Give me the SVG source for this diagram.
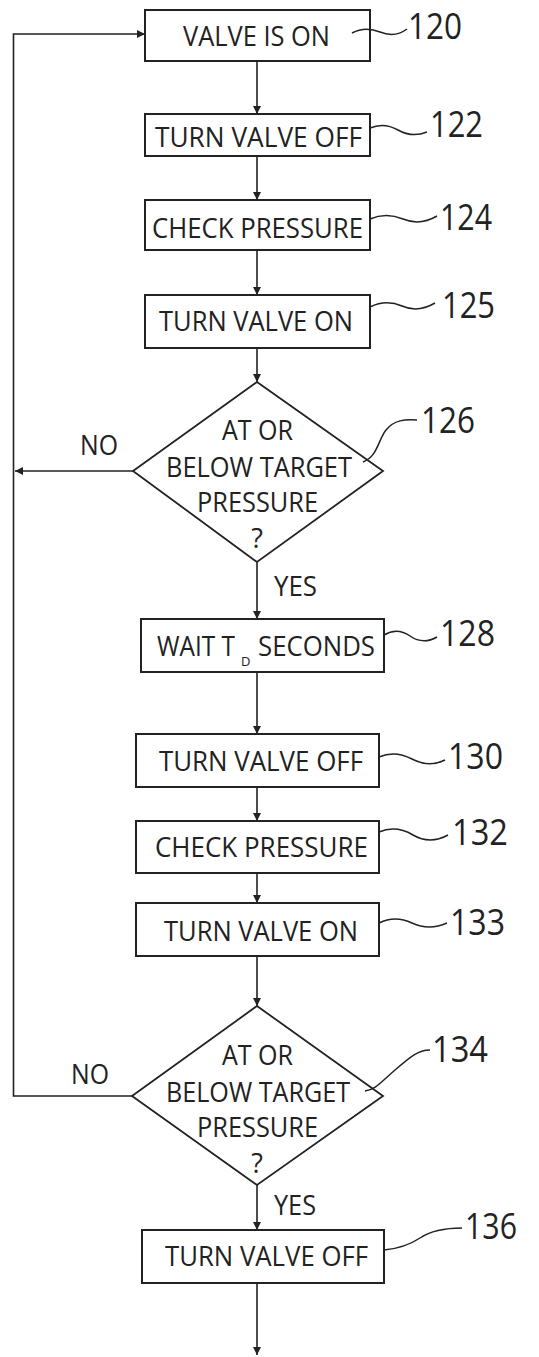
<svg xmlns="http://www.w3.org/2000/svg" width="539" height="1357" viewBox="0 0 539 1357">
<defs>
<marker id="ah" markerUnits="userSpaceOnUse" markerWidth="10" markerHeight="10" refX="8" refY="4" orient="auto">
<path d="M0,0 L8,4 L0,8 z" fill="#222"/>
</marker>
<style>
.box{fill:#fff;stroke:#222;stroke-width:2}
.dia{fill:#fff;stroke:#222;stroke-width:1.8}
.t{font-family:"Open Sans","Liberation Sans",sans-serif;font-size:27px;fill:#222}
.num{font-family:"Open Sans","Liberation Sans",sans-serif;font-size:36px;fill:#222}
.lead{fill:none;stroke:#222;stroke-width:1.5}
.conn{fill:none;stroke:#222;stroke-width:1.6}
</style>
</defs>
<rect width="539" height="1357" fill="#fff"/>
<g id="connectors">
<path class="conn" d="M257,61 V114" marker-end="url(#ah)"/>
<path class="conn" d="M257,156 V200" marker-end="url(#ah)"/>
<path class="conn" d="M257,250 V295" marker-end="url(#ah)"/>
<path class="conn" d="M257,348 V382" marker-end="url(#ah)"/>
<path class="conn" d="M133,471 H15" marker-end="url(#ah)"/>
<path class="conn" d="M257,562 V619" marker-end="url(#ah)"/>
<path class="conn" d="M257,672 V734" marker-end="url(#ah)"/>
<path class="conn" d="M257,787 V821" marker-end="url(#ah)"/>
<path class="conn" d="M257,873 V903" marker-end="url(#ah)"/>
<path class="conn" d="M257,956 V1006" marker-end="url(#ah)"/>
<path class="conn" d="M132,1096 H13.5 V34 H145" marker-end="url(#ah)"/>
<path class="conn" d="M257,1185 V1230" marker-end="url(#ah)"/>
<path class="conn" d="M257,1283 V1355" marker-end="url(#ah)"/>
<text class="t" x="80" y="455" textLength="38" lengthAdjust="spacingAndGlyphs">NO</text>
<text class="t" x="274" y="596" textLength="43" lengthAdjust="spacingAndGlyphs">YES</text>
<text class="t" x="71" y="1084" textLength="38" lengthAdjust="spacingAndGlyphs">NO</text>
<text class="t" x="274" y="1215" textLength="42" lengthAdjust="spacingAndGlyphs">YES</text>
</g>
<g id="n120">
<rect class="box" x="145" y="10" width="225" height="51"/>
<text class="t" x="183" y="46" textLength="147" lengthAdjust="spacingAndGlyphs">VALVE IS ON</text>
<path class="lead" d="M352,33 Q365,26 380,32 T407,29"/>
<text class="num" x="408" y="39" textLength="54" lengthAdjust="spacingAndGlyphs">120</text>
</g>
<g id="n122">
<rect class="box" x="145" y="114" width="225" height="42"/>
<text class="t" x="155" y="147" textLength="207" lengthAdjust="spacingAndGlyphs">TURN VALVE OFF</text>
<path class="lead" d="M370,128 Q384,122 398,130 T427,132"/>
<text class="num" x="430" y="137" textLength="53" lengthAdjust="spacingAndGlyphs">122</text>
</g>
<g id="n124">
<rect class="box" x="145" y="200" width="225" height="50"/>
<text class="t" x="152" y="238" textLength="211" lengthAdjust="spacingAndGlyphs">CHECK PRESSURE</text>
<path class="lead" d="M370,219 Q386,212 403,219 T437,216"/>
<text class="num" x="440" y="230" textLength="52" lengthAdjust="spacingAndGlyphs">124</text>
</g>
<g id="n125">
<rect class="box" x="145" y="295" width="225" height="53"/>
<text class="t" x="159" y="331" textLength="194" lengthAdjust="spacingAndGlyphs">TURN VALVE ON</text>
<path class="lead" d="M370,307 Q386,299 402,306 T435,303"/>
<text class="num" x="442" y="318" textLength="53" lengthAdjust="spacingAndGlyphs">125</text>
</g>
<g id="n126">
<polygon class="dia" points="257,382 383,471 257,562 133,471"/>
<text class="t" x="222" y="440" textLength="71" lengthAdjust="spacingAndGlyphs">AT OR</text>
<text class="t" x="166" y="477" textLength="186" lengthAdjust="spacingAndGlyphs">BELOW TARGET</text>
<text class="t" x="197" y="512" textLength="121" lengthAdjust="spacingAndGlyphs">PRESSURE</text>
<text class="t" x="257" y="548" text-anchor="middle">?</text>
<path class="lead" d="M363,462 C378,456 378,440 386,430 S405,419 417,420"/>
<text class="num" x="421" y="433" textLength="54" lengthAdjust="spacingAndGlyphs">126</text>
</g>
<g id="n128">
<rect class="box" x="141" y="619" width="243" height="53"/>
<text class="t" y="656"><tspan x="157" textLength="78" lengthAdjust="spacingAndGlyphs">WAIT T</tspan><tspan x="241" y="666" font-size="13">D</tspan><tspan x="258" y="656" textLength="117" lengthAdjust="spacingAndGlyphs">SECONDS</tspan></text>
<path class="lead" d="M384,635 Q397,627 410,636 T437,637"/>
<text class="num" x="440" y="646" textLength="55" lengthAdjust="spacingAndGlyphs">128</text>
</g>
<g id="n130">
<rect class="box" x="136" y="734" width="243" height="53"/>
<text class="t" x="159" y="771" textLength="204" lengthAdjust="spacingAndGlyphs">TURN VALVE OFF</text>
<path class="lead" d="M379,757 Q395,750 412,759 T445,760"/>
<text class="num" x="448" y="769" textLength="55" lengthAdjust="spacingAndGlyphs">130</text>
</g>
<g id="n132">
<rect class="box" x="136" y="821" width="243" height="52"/>
<text class="t" x="155" y="857" textLength="213" lengthAdjust="spacingAndGlyphs">CHECK PRESSURE</text>
<path class="lead" d="M379,832 Q396,825 413,835 T448,835"/>
<text class="num" x="452" y="845" textLength="56" lengthAdjust="spacingAndGlyphs">132</text>
</g>
<g id="n133">
<rect class="box" x="136" y="903" width="243" height="53"/>
<text class="t" x="164" y="941" textLength="194" lengthAdjust="spacingAndGlyphs">TURN VALVE ON</text>
<path class="lead" d="M379,923 Q395,915 412,923 T447,923"/>
<text class="num" x="450" y="935" textLength="55" lengthAdjust="spacingAndGlyphs">133</text>
</g>
<g id="n134">
<polygon class="dia" points="257,1006 383,1096 257,1185 132,1096"/>
<text class="t" x="222" y="1065" textLength="71" lengthAdjust="spacingAndGlyphs">AT OR</text>
<text class="t" x="166" y="1102" textLength="184" lengthAdjust="spacingAndGlyphs">BELOW TARGET</text>
<text class="t" x="197" y="1137" textLength="121" lengthAdjust="spacingAndGlyphs">PRESSURE</text>
<text class="t" x="257" y="1173" text-anchor="middle">?</text>
<path class="lead" d="M365,1091 C375,1090 380,1083 395,1070 S418,1050 430,1050"/>
<text class="num" x="432" y="1062" textLength="56" lengthAdjust="spacingAndGlyphs">134</text>
</g>
<g id="n136">
<rect class="box" x="142" y="1230" width="242" height="53"/>
<text class="t" x="165" y="1266" textLength="203" lengthAdjust="spacingAndGlyphs">TURN VALVE OFF</text>
<path class="lead" d="M384,1250 Q405,1248 420,1238 T462,1228"/>
<text class="num" x="465" y="1239" textLength="52" lengthAdjust="spacingAndGlyphs">136</text>
</g>
</svg>
